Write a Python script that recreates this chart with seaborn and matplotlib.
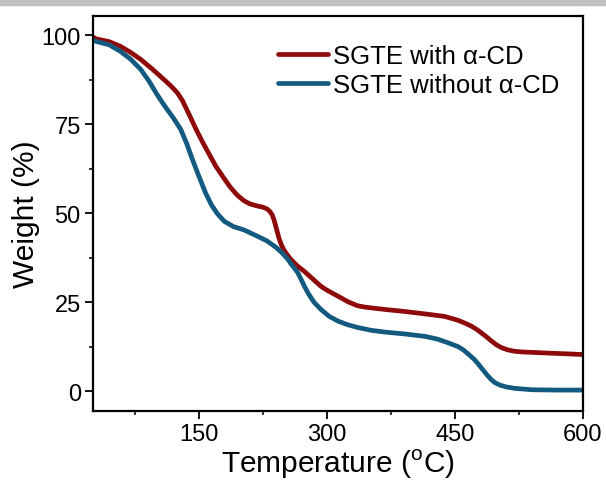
import matplotlib
matplotlib.use("Agg")
import matplotlib.pyplot as plt
import seaborn as sns
import pandas as pd
from matplotlib.patches import Rectangle
from matplotlib.ticker import MultipleLocator

# Data
temp_with = [27, 29, 45, 58, 70, 82, 95, 109, 118, 125, 131, 136, 141, 146, 151, 156, 164,
             170, 179, 187, 195, 203, 210, 219, 225, 230, 233, 236, 238, 240, 242, 244, 247,
             250, 254, 258, 266, 273, 280, 287, 293, 300, 313, 325, 336, 345, 352, 370, 387,
             405, 422, 438, 454, 462, 470, 476, 481, 487, 493, 499, 505, 512, 520, 530, 540,
             559, 580, 599]
weight_with = [99.4, 99.0, 98.2, 96.9, 95.2, 93.2, 90.6, 87.6, 85.6, 83.8, 81.6, 79.1, 76.6,
               74.0, 71.6, 69.3, 65.8, 63.2, 60.0, 57.3, 55.1, 53.5, 52.6, 52.0, 51.7, 51.2,
               50.6, 49.6, 48.3, 46.6, 44.8, 43.0, 41.0, 39.6, 38.2, 37.0, 35.1, 33.8, 32.3,
               30.8, 29.5, 28.4, 26.7, 25.1, 24.0, 23.6, 23.4, 22.9, 22.5, 22.0, 21.5, 21.0,
               19.9, 19.1, 18.2, 17.3, 16.4, 15.3, 14.1, 13.0, 12.2, 11.6, 11.2, 11.0, 10.9,
               10.7, 10.5, 10.3]

temp_without = [27, 29, 45, 58, 70, 82, 92, 101, 109, 121, 129, 136, 142, 150, 158, 165, 172,
                180, 191, 203, 219, 230, 240, 247, 254, 258, 262, 266, 270, 274, 278, 285,
                293, 303, 313, 324, 336, 352, 368, 390, 415, 430, 442, 454, 460, 466, 473,
                478, 483, 488, 493, 497, 503, 510, 520, 540, 570, 599]
weight_without = [98.6, 98.3, 97.3, 95.5, 93.3, 90.4, 87.0, 83.4, 80.5, 76.5, 73.5, 69.5,
                  65.5, 60.5, 55.7, 52.3, 49.8, 47.7, 46.2, 45.3, 43.5, 42.2, 40.5, 39.0,
                  37.2, 35.8, 34.6, 33.3, 31.4, 29.4, 27.6, 25.0, 23.0, 21.0, 19.7, 18.7,
                  17.9, 17.1, 16.6, 16.1, 15.4, 14.6, 13.6, 12.5, 11.6, 10.4, 8.9, 7.5, 6.0,
                  4.5, 3.2, 2.4, 1.7, 1.2, 0.8, 0.4, 0.3, 0.3]

labels = ["SGTE with \u03b1-CD", "SGTE without \u03b1-CD"]
colors = ["#8e0a0a", "#135a80"]
x_ticks = [150, 300, 450, 600]
y_ticks = [0, 25, 50, 75, 100]

df = pd.concat([
    pd.DataFrame({"T": temp_with, "W": weight_with, "Sample": labels[0]}),
    pd.DataFrame({"T": temp_without, "W": weight_without, "Sample": labels[1]}),
])

sns.set_style("ticks")
plt.rcParams["font.family"] = ["Liberation Sans", "DejaVu Sans"]
plt.rcParams["mathtext.fontset"] = "custom"
plt.rcParams["mathtext.rm"] = "Liberation Sans"

fig = plt.figure(figsize=(6.06, 4.81), dpi=100)
ax = fig.add_axes([0.154, 0.144, 0.8076, 0.820])

sns.lineplot(data=df, x="T", y="W", hue="Sample", palette=dict(zip(labels, colors)),
             linewidth=3.4, ax=ax, sort=False, estimator=None)
for ln in ax.get_lines():
    ln.set_solid_joinstyle("round")
    ln.set_solid_capstyle("round")

ax.set_xlim(26.5, 600)
ax.set_ylim(-5.5, 105.3)
ax.set_xticks(x_ticks)
ax.set_yticks(y_ticks)
ax.xaxis.set_minor_locator(MultipleLocator(75))
ax.yaxis.set_minor_locator(MultipleLocator(12.5))
ax.tick_params(axis="both", which="major", direction="out", length=6, width=1.3,
               labelsize=17, pad=3, color="black", labelcolor="black")
ax.tick_params(axis="both", which="minor", direction="out", length=3, width=1.3)
for s in ax.spines.values():
    s.set_linewidth(1.6)
    s.set_color("black")

ax.set_xlabel("Temperature ($^{\\mathrm{o}}$C)", fontsize=21.5, labelpad=1, color="black")
ax.set_ylabel("Weight (%)", fontsize=21.5, labelpad=1, color="black")

leg = ax.legend(loc="upper right", frameon=False, fontsize=18.5, handlelength=1.95,
                handletextpad=0.2, labelspacing=0.2, borderaxespad=0.3,
                bbox_to_anchor=(0.99, 0.975))
for ln in leg.get_lines():
    ln.set_linewidth(3.4)
for t in leg.get_texts():
    t.set_color("black")

fig.patches.append(Rectangle((0, 1 - 6 / 481), 1, 6 / 481, transform=fig.transFigure,
                             color="#c0c0c0", zorder=0))

fig.savefig("out.png", dpi=100)
